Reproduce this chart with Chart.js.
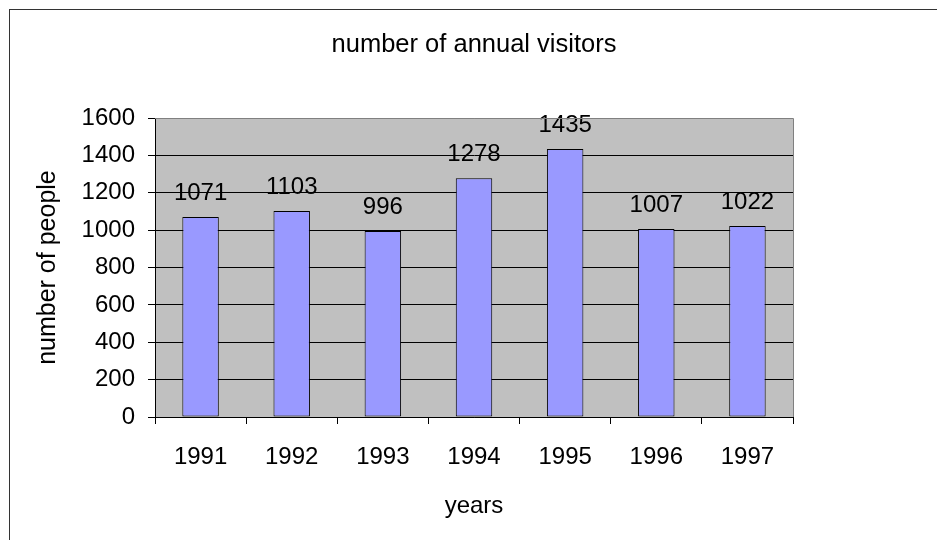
<!DOCTYPE html>
<html>
<head>
<meta charset="utf-8">
<script src="https://cdn.jsdelivr.net/npm/chart.js@4.4.1/dist/chart.umd.min.js"></script>
<style>
  html, body { margin: 0; padding: 0; background: #fff; }
  canvas { display: block; }
</style>
</head>
<body>
<canvas id="visitors-chart" width="937" height="540"></canvas>
<script>
const years = ["1991", "1992", "1993", "1994", "1995", "1996", "1997"];
const visitors = [1071, 1103, 996, 1278, 1435, 1007, 1022];
const yTicks = [0, 200, 400, 600, 800, 1000, 1200, 1400, 1600];

const FONT = "'Liberation Sans', Arial, sans-serif";

// gray plot background + outer frame
const plotBackground = {
  id: "plotBackground",
  beforeDraw(chart) {
    const { ctx, chartArea } = chart;
    ctx.save();
    ctx.fillStyle = "#fff";
    ctx.fillRect(0, 0, chart.width, chart.height);
    ctx.strokeStyle = "#333";
    ctx.lineWidth = 1;
    ctx.strokeRect(9.5, 9.5, chart.width + 20, chart.height + 20);
    ctx.fillStyle = "#C0C0C0";
    ctx.fillRect(chartArea.left, chartArea.top, chartArea.right - chartArea.left, chartArea.bottom - chartArea.top);
    ctx.restore();
  },
  afterDraw(chart) {
    const { ctx, chartArea } = chart;
    ctx.save();
    ctx.strokeStyle = "#808080";
    ctx.lineWidth = 1;
    ctx.beginPath();
    ctx.moveTo(chartArea.left, Math.round(chartArea.top) + 0.5);
    ctx.lineTo(Math.round(chartArea.right) + 0.5, Math.round(chartArea.top) + 0.5);
    ctx.lineTo(Math.round(chartArea.right) + 0.5, chartArea.bottom);
    ctx.stroke();
    ctx.restore();
  },
};

const valueLabels = {
  id: "valueLabels",
  afterDatasetsDraw(chart) {
    const { ctx } = chart;
    const meta = chart.getDatasetMeta(0);
    ctx.save();
    ctx.font = "24px " + FONT;
    ctx.fillStyle = "#000";
    ctx.textAlign = "center";
    ctx.textBaseline = "alphabetic";
    meta.data.forEach((bar, i) => {
      ctx.fillText(String(visitors[i]), bar.x, bar.y - 17);
    });
    ctx.restore();
  },
};

new Chart(document.getElementById("visitors-chart"), {
  type: "bar",
  data: {
    labels: years,
    datasets: [
      {
        data: visitors,
        backgroundColor: "#9999FF",
        borderColor: "#000",
        borderWidth: 1,
        borderSkipped: false,
        barPercentage: 0.4,
        categoryPercentage: 1,
      },
    ],
  },
  options: {
    responsive: false,
    animation: false,
    devicePixelRatio: 1,
    layout: { padding: { left: 0, right: 144, top: 0, bottom: 0 } },
    plugins: {
      legend: { display: false },
      tooltip: { enabled: false },
      title: {
        display: true,
        text: "number of annual visitors",
        fullSize: false,
        color: "#000",
        font: { family: FONT, size: 25.5, weight: "normal" },
        padding: { top: 30, bottom: 57.5 },
      },
    },
    scales: {
      x: {
        offset: true,
        afterFit(scale) {
          scale.height = 123;
        },
        grid: {
          offset: true,
          drawOnChartArea: false,
          drawTicks: true,
          tickLength: 7,
          color: "#000",
        },
        border: { display: true, color: "#000" },
        ticks: {
          color: "#000",
          padding: 19,
          font: { family: FONT, size: 24 },
        },
        title: {
          display: true,
          text: "years",
          color: "#000",
          font: { family: FONT, size: 24 },
          padding: { top: 0, bottom: 19 },
        },
      },
      y: {
        min: 0,
        max: 1600,
        afterFit(scale) {
          scale.width = 155;
        },
        afterBuildTicks(scale) {
          scale.ticks = yTicks.map((v) => ({ value: v }));
        },
        grid: {
          color: (c) => (c.tick && c.tick.value === 1600 ? "#808080" : "#000"),
          tickColor: "#000",
          tickLength: 7,
        },
        border: { display: true, color: "#000" },
        ticks: {
          color: "#000",
          padding: 13,
          font: { family: FONT, size: 24 },
          callback: (v) => String(v),
        },
        title: {
          display: true,
          text: "number of people",
          color: "#000",
          font: { family: FONT, size: 25 },
          padding: { top: 33, bottom: 0 },
        },
      },
    },
  },
  plugins: [plotBackground, valueLabels],
});
</script>
</body>
</html>
